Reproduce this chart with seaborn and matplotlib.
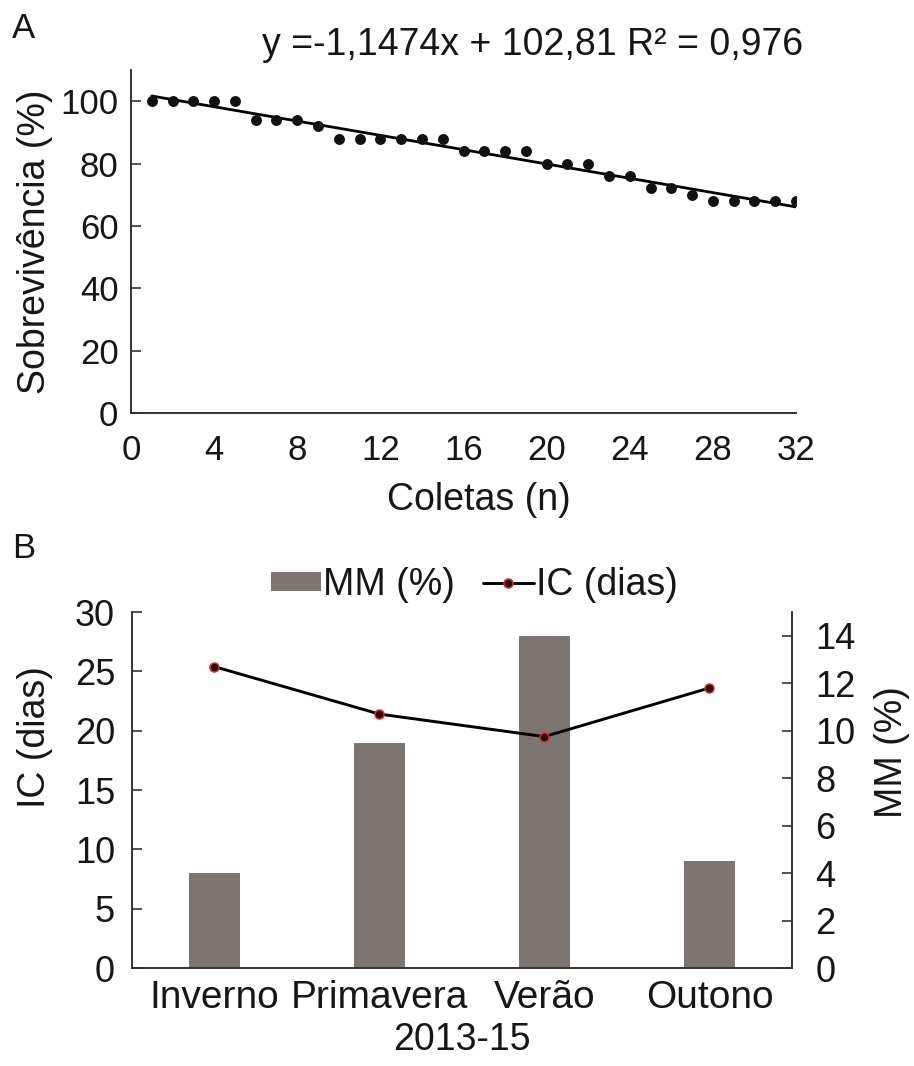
import numpy as np
import pandas as pd
import matplotlib
matplotlib.use("Agg")
import matplotlib.pyplot as plt
from matplotlib.patches import Patch
from matplotlib.lines import Line2D
import seaborn as sns

# Panel A: survival per sampling event
coletas = list(range(1, 33))
sobrevivencia = [100, 100, 100, 100, 100, 94, 94, 94, 92, 88, 88, 88, 88, 88, 88, 84,
                 84, 84, 84, 80, 80, 80, 76, 76, 72, 72, 70, 68, 68, 68, 68, 68]

# Panel B: seasonal values
estacoes = ["Inverno", "Primavera", "Verão", "Outono"]
mm_pct = [4.0, 9.5, 14.0, 4.5]
ic_dias = [25.4, 21.4, 19.5, 23.6]

sns.set_style("ticks")
plt.rcParams["font.family"] = ["Liberation Sans", "DejaVu Sans"]
FS_TICK = 25
FS_LABEL = 27
INK = "#161616"
SPINE = "#333333"
BAR = "#7d7572"
EDGE_RED = "#d03535"
FACE_DARK = "#2a0606"

df_a = pd.DataFrame({"coleta": coletas, "sobrevivencia": sobrevivencia})
df_b = pd.DataFrame({"estacao": estacoes, "mm": mm_pct, "ic": ic_dias})

W, H = 914, 1066
fig = plt.figure(figsize=(W / 100, H / 100), dpi=100)

def box(l, t, r, b):
    return [l / W, 1 - b / H, (r - l) / W, (b - t) / H]

# ---------- Panel A ----------
axA = fig.add_axes(box(131, 70, 796, 413))
sns.scatterplot(data=df_a, x="coleta", y="sobrevivencia", ax=axA,
                color="#111111", s=62, linewidth=0, zorder=3)
sns.regplot(data=df_a, x="coleta", y="sobrevivencia", ax=axA, scatter=False,
            ci=None, color="black", line_kws={"linewidth": 2.0})
axA.set_xlim(0, 32)
axA.set_ylim(0, 110)
axA.set_xticks(range(0, 33, 4))
axA.set_yticks(range(0, 101, 20))
axA.tick_params(axis="y", direction="in", length=7, width=1.2, color=SPINE,
                labelsize=FS_TICK, labelcolor=INK, pad=9)
axA.tick_params(axis="x", length=0, labelsize=FS_TICK, labelcolor=INK, pad=15)
for side in ("top", "right"):
    axA.spines[side].set_visible(False)
for side in ("left", "bottom"):
    axA.spines[side].set_color(SPINE)
    axA.spines[side].set_linewidth(1.4)
axA.set_xlabel("Coletas (n)", fontsize=FS_LABEL, color=INK, va="center", ha="center")
axA.xaxis.set_label_coords(0.523, -0.254)
axA.set_ylabel("Sobrevivência (%)", fontsize=FS_LABEL, color=INK)
axA.yaxis.label.set(va="center", ha="center", rotation_mode="default")
axA.yaxis.set_label_coords(-0.144, 0.5)

slope, intercept = np.polyfit(coletas, sobrevivencia, 1)
r2 = np.corrcoef(coletas, sobrevivencia)[0, 1] ** 2
eq = f"y ={slope:.4f}x + {intercept:.2f} R² = {r2:.3f}".replace(".", ",")
axA.text((262 - 131) / 665, (413 - 45) / 343, eq, transform=axA.transAxes,
         fontsize=FS_LABEL, color=INK, ha="left", va="center")

fig.text(12 / W, 1 - 28 / H, "A", fontsize=FS_TICK, color=INK, ha="left", va="center")
fig.text(12 / W, 1 - 548 / H, "B", fontsize=FS_TICK, color=INK, ha="left", va="center")

# ---------- Panel B ----------
axB = fig.add_axes(box(131.7, 612, 792, 968))
axB2 = axB.twinx()

sns.barplot(data=df_b, x="estacao", y="mm", ax=axB2, color=BAR, width=0.31,
            saturation=1, edgecolor="none")
sns.pointplot(data=df_b, x="estacao", y="ic", ax=axB, color="black",
              markers="o", linestyles="-", linewidth=2.1, markersize=6.5,
              markeredgecolor=EDGE_RED, markeredgewidth=1.1,
              markerfacecolor=FACE_DARK)

# line axis above the bar axis
axB.set_zorder(2)
axB.patch.set_visible(False)
axB2.set_zorder(1)

axB.set_xlim(-0.5, 3.5)
axB.set_ylim(0, 30)
axB2.set_ylim(0, 15)
axB.set_yticks(range(0, 31, 5))
axB2.set_yticks(range(0, 15, 2))

axB.tick_params(axis="y", direction="in", length=7, width=1.2, color=SPINE,
                labelsize=26, labelcolor=INK, pad=12)
axB2.tick_params(axis="y", direction="in", length=7, width=1.2, color=SPINE,
                 labelsize=26, labelcolor=INK, pad=17)
axB.tick_params(axis="x", length=0, labelsize=28, labelcolor=INK, pad=9)
axB2.tick_params(axis="x", length=0)

axB.spines["top"].set_visible(False)
axB.spines["right"].set_visible(False)
for side in ("top", "left", "bottom"):
    axB2.spines[side].set_visible(False)
for sp in (axB.spines["left"], axB.spines["bottom"], axB2.spines["right"]):
    sp.set_color(SPINE)
    sp.set_linewidth(1.4)

axB.set_xlabel("2013-15", fontsize=FS_LABEL, color=INK, va="center", ha="center")
axB.xaxis.set_label_coords(0.5, (968 - 1040) / 356)
axB.set_ylabel("IC (dias)", fontsize=FS_LABEL, color=INK)
axB.yaxis.label.set(va="center", ha="center", rotation_mode="default")
axB.yaxis.set_label_coords((35 - 131.7) / 660.3, (968 - 737) / 356)
axB2.set_ylabel("MM (%)", fontsize=FS_LABEL, color=INK)
axB2.yaxis.label.set(va="center", ha="center", rotation_mode="default", rotation=90)
axB2.yaxis.set_label_coords((892 - 131.7) / 660.3, (968 - 752) / 356)

handles = [
    Patch(facecolor=BAR, edgecolor="none"),
    Line2D([], [], color="black", linewidth=2.1, marker="o", markersize=6.5,
           markeredgecolor=EDGE_RED, markeredgewidth=1.1, markerfacecolor=FACE_DARK),
]
fig.legend(handles, ["MM (%)", "IC (dias)"], loc="center",
           bbox_to_anchor=(474 / W, 1 - 585 / H), ncol=2, frameon=False,
           fontsize=FS_LABEL, handlelength=1.35, handleheight=0.42, handletextpad=0.05,
           columnspacing=0.75, labelcolor=INK)

fig.savefig("out.png", dpi=100)
